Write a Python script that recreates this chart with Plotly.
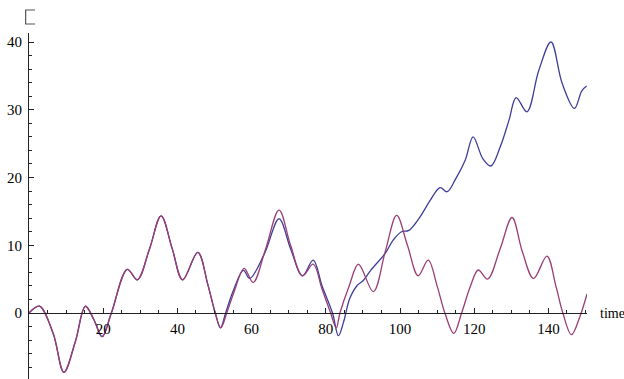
import plotly.graph_objects as go

# Series 1 (blue) sample points
t_blue = [0, 2.8, 6.5, 9.4, 12.5, 15.2, 17.5, 19.7, 22.2, 26.5, 29.2, 32.5, 35.6, 38.6, 41.4, 45.5,
          48.2, 50.2, 51.6, 53.0, 55.0, 57.8, 59.5, 63.5, 67.4, 70.5, 73.7, 76.6, 79.0, 81.8,
          83.4, 84.7, 86.5, 88.5, 90.1, 92.1, 96.0, 98.2, 100.4, 102.4, 105.4, 108.0, 110.8,
          112.7, 115.0, 117.6, 119.7, 122.3, 124.5, 127.0, 129.4, 131.3, 134.2, 137.4, 140.7,
          143.7, 147.0, 149.0, 150.3]
v_blue = [0, 1.0, -3.0, -8.75, -4.2, 1.0, -1.0, -3.5, 0, 6.45, 4.9, 9.5, 14.35, 9.5, 4.9, 8.95,
          4.2, 0, -2.2, 0, 3.2, 6.3, 5.1, 8.8, 13.9, 9.5, 5.5, 7.8, 4.0, 0,
          -3.35, -1.5, 2.2, 4.1, 4.8, 6.3, 8.8, 10.8, 12.0, 12.2, 14.2, 16.5, 18.5,
          17.9, 19.8, 22.6, 26.0, 22.8, 21.7, 24.5, 28.5, 31.8, 29.7, 35.8, 40.0,
          33.9, 30.2, 32.8, 33.5]

# Series 2 (purple) sample points
t_purple = [0, 2.8, 6.5, 9.4, 12.5, 15.2, 17.5, 19.7, 22.2, 26.5, 29.2, 32.5, 35.6, 38.6, 41.4,
            45.5, 48.2, 50.2, 51.7, 53.3, 55.2, 58.0, 60.4, 63.8, 67.4, 70.5, 73.7, 76.6, 79.0,
            81.3, 82.8, 83.8, 86.3, 88.8, 92.8, 96.0, 99.1, 102.0, 104.9, 107.6, 110.0, 112.1,
            114.5, 116.6, 119.0, 121.1, 123.6, 127.0, 130.2, 133.0, 136.0, 139.6, 142.0, 143.9,
            146.2, 148.5, 150.4]
v_purple = [0, 1.0, -3.0, -8.75, -4.2, 1.0, -1.0, -3.5, 0, 6.45, 4.9, 9.5, 14.35, 9.5, 4.9,
            8.95, 4.2, 0, -2.2, 0, 3.0, 6.6, 4.5, 9.5, 15.2, 10.0, 5.5, 7.2, 3.5,
            0, -2.2, 0, 4.0, 7.2, 3.15, 9.0, 14.4, 10.0, 5.5, 7.8, 4.0, 0,
            -3.0, 0, 4.0, 6.35, 5.0, 9.5, 14.1, 9.0, 5.1, 8.4, 4.0, 0,
            -3.2, -0.5, 2.8]

x_ticks = [20, 40, 60, 80, 100, 120, 140]
y_ticks = [0, 10, 20, 30, 40]

y_min, y_max = -9.74, 41.33
x_min, x_max = 0, 150.4

fig = go.Figure()
fig.add_trace(go.Scatter(x=t_blue, y=v_blue, mode="lines",
                         line=dict(color="#3D3D99", width=1.3, shape="spline", smoothing=1.0)))
fig.add_trace(go.Scatter(x=t_purple, y=v_purple, mode="lines",
                         line=dict(color="#993D74", width=1.3, shape="spline", smoothing=1.0)))

font = dict(family="Liberation Serif", size=15, color="#000000")
zero_pos = (0 - y_min) / (y_max - y_min)

fig.update_layout(
    width=624, height=379,
    margin=dict(l=29, r=37, t=33, b=0),
    paper_bgcolor="white", plot_bgcolor="white",
    showlegend=False,
    font=font,
    xaxis=dict(range=[x_min, x_max], showgrid=False, zeroline=False,
               showline=True, linecolor="#222", linewidth=1,
               anchor="free", position=zero_pos,
               tickvals=x_ticks, ticks="inside", ticklen=5, tickcolor="#222",
               minor=dict(dtick=5, tick0=0, ticks="inside", ticklen=3, tickcolor="#222"),
               tickfont=font, ticklabelstandoff=2),
    yaxis=dict(range=[y_min, y_max], showgrid=False, zeroline=False,
               showline=True, linecolor="#222", linewidth=1,
               tickvals=y_ticks, ticks="inside", ticklen=5, tickcolor="#222",
               minor=dict(dtick=2, tick0=0, ticks="inside", ticklen=3, tickcolor="#222"),
               tickfont=font, ticklabelstandoff=3),
    annotations=[dict(text="time", xref="paper", yref="y", x=1.0, y=0,
                      xanchor="left", yanchor="middle", xshift=11, showarrow=False,
                      font=dict(family="Liberation Serif", size=14, color="#000000"))],
    shapes=[dict(type="path", xref="paper", yref="paper",
                 path="M 0.0108,1.0665 L -0.006,1.0665 L -0.006,1.026 L 0.0108,1.026",
                 line=dict(color="#555", width=1.2))],
)

fig.write_html("out.html",
               config={"displayModeBar": False},
               post_script="document.body.style.margin='0';document.body.style.overflow='hidden';")
